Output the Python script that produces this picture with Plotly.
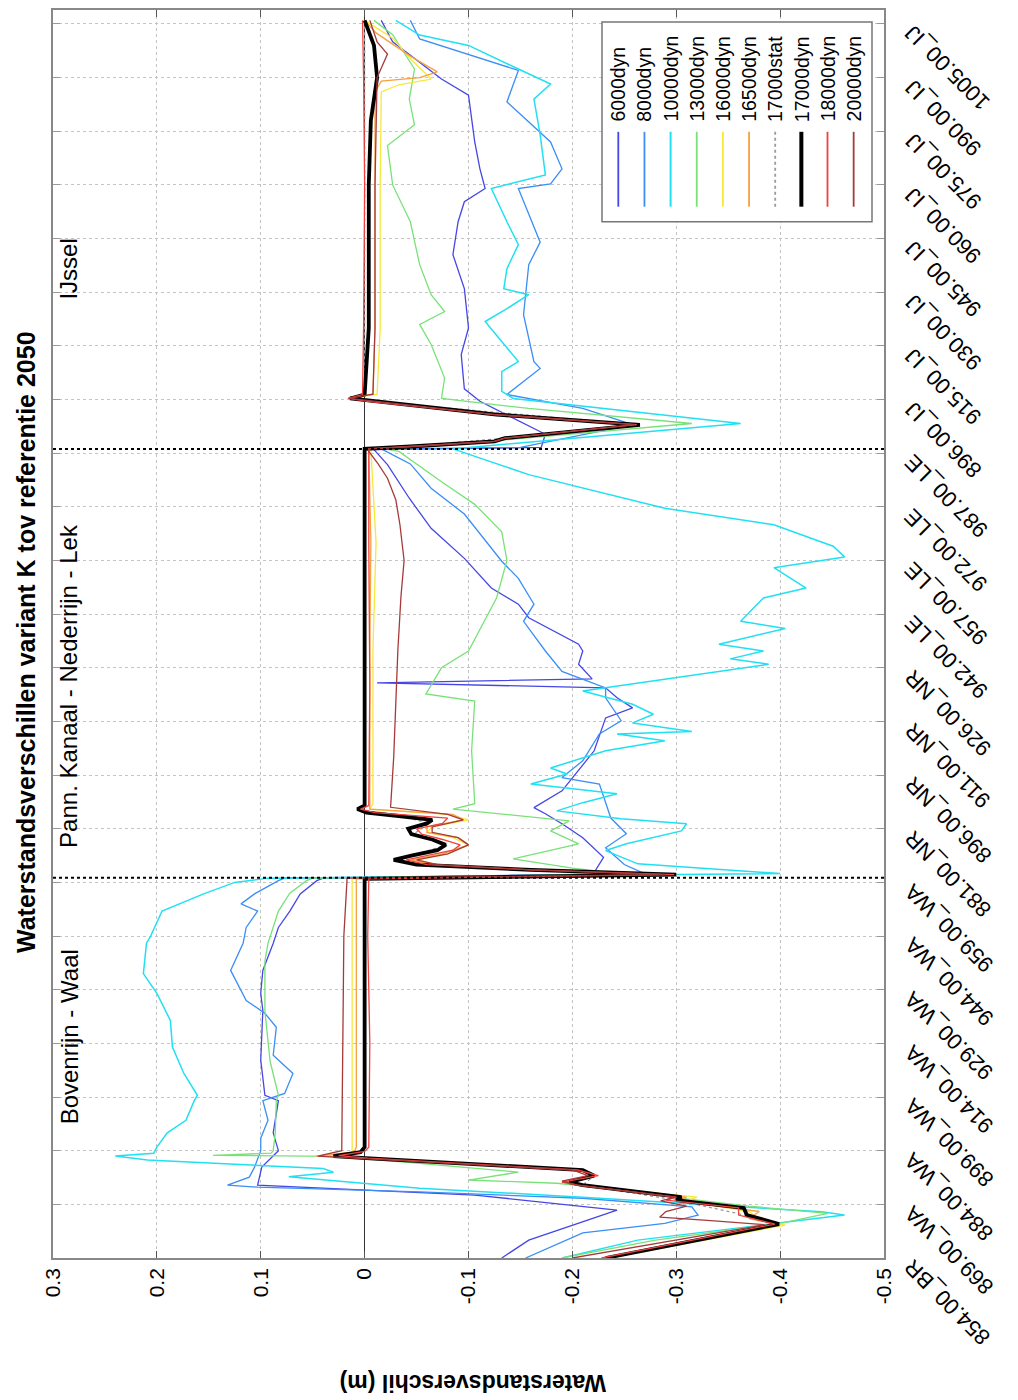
import plotly.graph_objects as go

# ---------------- data (x = water-level difference [m], y = profile position) ----------------
tick_pos = [0, 15, 30, 45, 60, 75, 90, 105, 120, 135, 150, 165, 180, 195, 210, 225,
            240, 255, 270, 285, 300, 315, 330, 345]
tick_labels = ["854.00_BR", "869.00_WA", "884.00_WA", "899.00_WA", "914.00_WA", "929.00_WA",
               "944.00_WA", "959.00_WA", "881.00_NR", "896.00_NR", "911.00_NR", "926.00_NR",
               "942.00_LE", "957.00_LE", "972.00_LE", "987.00_LE", "896.00_IJ", "915.00_IJ",
               "930.00_IJ", "945.00_IJ", "960.00_IJ", "975.00_IJ", "990.00_IJ", "1005.00_IJ"]
value_ticks = [0.3, 0.2, 0.1, 0, -0.1, -0.2, -0.3, -0.4, -0.5]
value_labels = ["0.3", "0.2", "0.1", "0", "-0.1", "-0.2", "-0.3", "-0.4", "-0.5"]
boundaries = [106.3, 226.2]
region_names = ["Bovenrijn - Waal", "Pann. Kanaal - Nederrijn - Lek", "IJssel"]

p_6000 = [0, 5, 13.4, 17.6, 20.4, 25.4, 30, 35, 44, 45.5, 55.3, 69.2, 74, 80.4, 88, 92.4, 97, 101.8,
          105.5, 106.2, 107.3, 112, 117.5, 121.4, 124.2, 125.9, 130.6, 141.8, 151, 153.8, 156.6,
          159.4, 160.8, 161.9, 166, 169.7, 171.6, 179, 182.8, 187.3, 195.6, 204, 212.4, 221.8, 226,
          226.6, 230.3, 235.8, 239.5, 243, 252.6, 260, 271, 280.5, 289.7, 295.3, 299, 304.5, 312,
          325.1, 329.6, 340, 346]
v_6000 = [-0.132, -0.158, -0.243, -0.106, 0.103, 0.099, 0.083, 0.088, 0.083, 0.096, 0.100, 0.098,
          0.100, 0.098, 0.088, 0.083, 0.072, 0.062, 0.046, 0.040, -0.220, -0.230, -0.210, -0.190,
          -0.174, -0.163, -0.190, -0.221, -0.232, -0.258, -0.243, -0.232, -0.012, -0.219, -0.206,
          -0.210, -0.206, -0.158, -0.148, -0.122, -0.096, -0.064, -0.043, -0.022, -0.009, -0.170,
          -0.174, -0.137, -0.111, -0.096, -0.093, -0.100, -0.096, -0.085, -0.090, -0.096, -0.116,
          -0.111, -0.106, -0.100, -0.074, -0.027, -0.016]

p_8000 = [0, 7, 9.7, 12, 14.3, 16.7, 18.5, 19.8, 20.4, 22.6, 25.4, 30, 33.5, 38.5, 44, 46, 51.6,
          56.7, 64.5, 68.4, 72, 74.8, 80.4, 88, 92.4, 97, 99, 101.8, 105.5, 106.2, 107.4, 110,
          114.7, 118.6, 123, 132.5, 134.3, 139, 146.5, 150.2, 156.6, 159.4, 164, 169.7, 171.6, 178,
          182.8, 190, 194.8, 208, 215.2, 222, 226.2, 226.6, 233, 237.5, 241.4, 248.7, 250.6, 263.7,
          277.7, 284, 289.7, 299, 300.3, 304.5, 312, 323.2, 332, 340.8, 346]
v_8000 = [-0.155, -0.210, -0.289, -0.321, -0.315, -0.210, -0.053, 0.103, 0.132, 0.111, 0.106,
          0.100, 0.100, 0.093, 0.098, 0.077, 0.069, 0.088, 0.085, 0.096, 0.114, 0.119, 0.129,
          0.117, 0.114, 0.103, 0.119, 0.106, 0.083, 0.077, -0.270, -0.250, -0.232, -0.252, -0.237,
          -0.226, -0.190, -0.210, -0.226, -0.247, -0.232, -0.232, -0.190, -0.174, -0.169, -0.153,
          -0.163, -0.148, -0.132, -0.096, -0.064, -0.044, -0.016, -0.150, -0.258, -0.210, -0.137,
          -0.169, -0.163, -0.153, -0.158, -0.169, -0.161, -0.148, -0.179, -0.190, -0.179, -0.137,
          -0.148, -0.053, -0.044]

p_10000 = [0, 5, 8.7, 10.6, 12, 12.9, 15.7, 17, 19.5, 22.7, 24, 25, 27.4, 28.5, 29.3, 31, 35, 38.5,
           44, 45.5, 51.6, 59, 66.4, 74, 79.5, 88, 90, 97, 101.8, 105, 106.2, 107.5, 110.2, 113.9,
           115.8, 119.4, 121.4, 122.8, 125, 127.3, 129.8, 132.5, 135.3, 137, 141.8, 144.6, 146.5,
           147.2, 149.6, 152, 154.8, 158.5, 166, 167.5, 169.7, 171.6, 176, 178, 184.5, 187.3, 193,
           196, 199, 205, 209.6, 219, 226.2, 233.3, 240.3, 242.3, 247.8, 250.6, 261.8, 265.4,
           269.3, 271, 276.6, 283.3, 289.7, 299, 302.8, 314, 324, 328.2, 332.4, 339, 341.9, 346]
v_10000 = [-0.190, -0.263, -0.368, -0.420, -0.462, -0.440, -0.289, -0.210, -0.053, 0.073, 0.030,
           0.040, 0.209, 0.240, 0.203, 0.200, 0.190, 0.172, 0.164, 0.161, 0.174, 0.185, 0.187,
           0.200, 0.213, 0.210, 0.206, 0.195, 0.155, 0.125, 0.093, -0.400, -0.263, -0.232, -0.252,
           -0.305, -0.310, -0.247, -0.185, -0.210, -0.243, -0.160, -0.195, -0.179, -0.232, -0.289,
           -0.243, -0.315, -0.258, -0.278, -0.258, -0.210, -0.389, -0.352, -0.384, -0.341, -0.405,
           -0.362, -0.384, -0.425, -0.394, -0.462, -0.451, -0.394, -0.289, -0.158, -0.085, -0.362,
           -0.143, -0.132, -0.132, -0.148, -0.116, -0.137, -0.158, -0.134, -0.137, -0.148, -0.137,
           -0.122, -0.174, -0.169, -0.163, -0.179, -0.148, -0.100, -0.053, -0.030]

p_13000 = [0, 5, 9.7, 12.5, 14.5, 16.5, 19, 20.9, 21.8, 24, 26.5, 28.4, 28.7, 29.3, 30, 35, 44, 45.5,
           55, 69, 83, 88, 97, 102, 105.5, 106.2, 107.3, 109, 111.6, 115.8, 119.4, 122.2, 125.5,
           127, 141.8, 155.7, 157.7, 165, 169.7, 184.5, 195, 203, 210.7, 217, 225.5, 226.2, 226.8,
           233.3, 237.5, 240.3, 246, 255.4, 261, 264.6, 269.3, 277.7, 289.7, 300, 311, 316.8, 324,
           332.4, 342, 346]
v_13000 = [-0.190, -0.280, -0.400, -0.446, -0.370, -0.310, -0.250, -0.185, -0.100, -0.148, -0.050,
           0.030, 0.146, 0.090, 0.088, 0.086, 0.085, 0.083, 0.091, 0.096, 0.096, 0.093, 0.083,
           0.072, 0.056, 0.050, -0.250, -0.200, -0.143, -0.206, -0.179, -0.197, -0.085, -0.106,
           -0.103, -0.106, -0.059, -0.074, -0.100, -0.127, -0.137, -0.132, -0.106, -0.074, -0.033,
           -0.020, -0.060, -0.315, -0.158, -0.074, -0.077, -0.064, -0.053, -0.077, -0.064, -0.053,
           -0.044, -0.027, -0.022, -0.048, -0.043, -0.048, -0.027, -0.009]

p_16000 = [0, 9.2, 11, 13, 16, 17, 20.4, 21.5, 23, 24.6, 27.9, 28.6, 29.6, 31, 60, 90, 106, 107.2,
           108.5, 110, 111.3, 113, 115.5, 117.5, 119, 120.5, 122.5, 124, 125.5, 127, 170, 200,
           226.2, 226.8, 228.3, 229.2, 233, 235.8, 239.5, 240.3, 241.5, 260, 300, 326, 328, 329.6,
           335, 341, 346]
v_16000 = [-0.235, -0.405, -0.38, -0.37, -0.31, -0.32, -0.205, -0.19, -0.22, -0.21, 0.0, 0.04,
           0.012, 0.012, 0.012, 0.012, 0.012, -0.3, -0.17, -0.07, -0.05, -0.08, -0.1, -0.085, -0.06,
           -0.065, -0.1, -0.08, -0.005, -0.008, -0.008, -0.011, -0.006, -0.04, -0.125, -0.135,
           -0.265, -0.127, -0.005, 0.014, -0.012, -0.015, -0.015, -0.016, -0.033, -0.064, -0.045,
           -0.027, 0.0]

p_16500 = [0, 9.3, 11, 13, 16, 17, 20.4, 21.2, 23, 24.6, 27.9, 28.5, 29.6, 31, 60, 90, 106, 107.2,
           108.5, 110, 111.3, 113, 115.5, 117.5, 119, 120.5, 122.5, 124, 125.5, 127, 170, 200,
           226.2, 226.8, 228.3, 229.2, 233, 235.8, 239.5, 240.3, 241.5, 260, 300, 326, 329, 330,
           331.6, 336, 342.5, 346]
v_16500 = [-0.233, -0.398, -0.37, -0.38, -0.3, -0.31, -0.205, -0.19, -0.22, -0.205, 0.002, 0.047,
           0.01, 0.008, 0.008, 0.008, 0.008, -0.3, -0.165, -0.065, -0.045, -0.075, -0.1, -0.09,
           -0.06, -0.06, -0.095, -0.085, -0.005, -0.005, -0.005, -0.006, -0.004, -0.04, -0.125,
           -0.135, -0.265, -0.127, -0.005, 0.016, -0.008, -0.01, -0.01, -0.01, -0.016, -0.053,
           -0.07, -0.044, -0.011, 0.0]

p_17000s = [0, 9.5, 12, 16.2, 20.4, 23, 24.6, 27.9, 28.5, 29.6, 31, 106, 107.2, 110, 111.3, 115.5,
            118.5, 121.5, 123.5, 125.5, 126.5, 226.2, 226.8, 229.2, 232.9, 239.5, 240.3, 241.4, 346]
v_17000s = [-0.23, -0.398, -0.366, -0.3, -0.21, -0.221, -0.21, -0.001, 0.028, 0.003, 0.0, 0.0,
            -0.3, -0.05, -0.03, -0.08, -0.047, -0.062, -0.036, 0.006, 0.0, 0.0, -0.04, -0.135,
            -0.265, -0.005, 0.013, 0.0, 0.0]

p_17000 = [0, 9.5, 12, 14, 16.2, 17, 20.4, 21.2, 23, 24.6, 27.9, 28.5, 29.6, 31, 60, 90, 106, 107.2,
           108.5, 110, 111.3, 112.5, 114, 115.5, 117, 118.5, 120, 121.5, 122.5, 123.5, 124.5, 125.5,
           126.5, 160, 200, 226.2, 226.8, 228.3, 229.2, 232.9, 235.8, 239.5, 240.3, 241.4, 260,
           300, 318, 330, 339, 346]
v_17000 = [-0.232, -0.399, -0.368, -0.365, -0.300, -0.305, -0.210, -0.197, -0.221, -0.210, -0.001,
           0.030, 0.004, 0.000, 0.000, 0.000, 0.000, -0.300, -0.160, -0.050, -0.028, -0.045,
           -0.070, -0.078, -0.065, -0.045, -0.042, -0.060, -0.065, -0.035, -0.002, 0.007, 0.000,
           0.000, 0.000, 0.000, -0.040, -0.125, -0.135, -0.265, -0.127, -0.005, 0.014, 0.000,
           -0.004, -0.004, -0.006, -0.012, -0.009, 0.000]

p_18000 = [0, 9.5, 12, 14, 16.2, 17, 20.4, 21.2, 23, 24.6, 27.9, 28.6, 29.8, 31, 60, 90, 106, 107.2,
           108.5, 110, 111.3, 112.5, 114, 115.5, 117, 118.5, 120, 121.5, 123, 124.5, 125.5, 126.5,
           160, 200, 226.2, 226.8, 228.3, 229.2, 233, 235.8, 239.5, 240.3, 241.4, 260, 300, 330, 346]
v_18000 = [-0.228, -0.395, -0.36, -0.36, -0.29, -0.3, -0.205, -0.19, -0.225, -0.205, -0.003, 0.025,
           0.0, -0.004, -0.005, -0.003, -0.004, -0.298, -0.16, -0.06, -0.04, -0.06, -0.085, -0.092,
           -0.075, -0.055, -0.05, -0.075, -0.08, -0.01, 0.004, -0.004, -0.005, -0.004, -0.004,
           -0.04, -0.125, -0.135, -0.262, -0.125, -0.003, 0.016, 0.002, 0.001, 0.0, 0.001, 0.002]

p_20000 = [0, 9.3, 10.5, 11.4, 13, 14.5, 16, 17, 20.4, 21.5, 23, 24.6, 27.9, 28.5, 30, 31, 60, 90,
           105.5, 106.2, 107.2, 108.5, 110, 111.3, 113, 115.5, 117.5, 119, 120.5, 122.5, 124, 126,
           140, 155, 170, 185, 195, 205, 212, 218, 222, 225.5, 226.2, 226.8, 228.3, 229.2, 233,
           235.8, 239.5, 240.3, 241.5, 260, 300, 330, 336.6, 340, 346]
v_20000 = [-0.2, -0.385, -0.33, -0.284, -0.29, -0.31, -0.285, -0.3, -0.205, -0.19, -0.215, -0.2,
           0.01, 0.045, 0.022, 0.022, 0.021, 0.02, 0.017, 0.017, -0.29, -0.16, -0.07, -0.05, -0.08,
           -0.1, -0.09, -0.065, -0.065, -0.095, -0.08, -0.025, -0.028, -0.03, -0.032, -0.035,
           -0.038, -0.034, -0.03, -0.022, -0.013, -0.004, -0.003, -0.04, -0.125, -0.135, -0.26,
           -0.125, -0.005, 0.015, -0.008, -0.01, -0.01, -0.012, -0.022, -0.012, -0.005]

series_names = ["6000dyn", "8000dyn", "10000dyn", "13000dyn", "16000dyn", "16500dyn",
                "17000stat", "17000dyn", "18000dyn", "20000dyn"]
series_p = [p_6000, p_8000, p_10000, p_13000, p_16000, p_16500, p_17000s, p_17000, p_18000, p_20000]
series_v = [v_6000, v_8000, v_10000, v_13000, v_16000, v_16500, v_17000s, v_17000, v_18000, v_20000]

# ---------------- styles ----------------
colors = ["#4646e6", "#3a8ef6", "#20e0f2", "#78e278", "#f7e83c", "#f7a040",
          "#9a9a9a", "#000000", "#f04040", "#a63a3a"]
widths = [1.3, 1.3, 1.5, 1.3, 1.3, 1.3, 1.3, 3.8, 1.3, 1.3]
dashes = ["solid", "solid", "solid", "solid", "solid", "solid", "dot", "solid", "solid", "solid"]
FONT = "Liberation Sans, Arial, Helvetica, sans-serif"

fig = go.Figure()
for name, p, v, c, w, d in zip(series_names, series_p, series_v, colors, widths, dashes):
    fig.add_trace(go.Scatter(x=v, y=p, mode="lines", name=name, showlegend=False,
                             line=dict(color=c, width=w, dash=d)))

# The page body has an 8px margin; the figure is sized so the plot lands at
# screen px: left 53, right 884, top 8, bottom 1258.
OFF = 8
W, H = 1018 - OFF, 1400 - OFF
L, T = 53 - OFF, 0
R = W - (884 - OFF)
B = H - (1258 - OFF)
pw, ph = W - L - R, H - T - B

def px(xs):
    return (xs - OFF - L) / pw

def py(ys):
    return (H - B - (ys - OFF)) / ph

fig.update_layout(
    width=W, height=H, margin=dict(l=L, r=R, t=T, b=B),
    paper_bgcolor="white", plot_bgcolor="white",
    font=dict(family=FONT, color="black"), showlegend=False,
)
fig.update_xaxes(
    range=[0.3, -0.5], tickvals=value_ticks, ticktext=value_labels, tickangle=-90,
    tickfont=dict(size=21, family=FONT, color="black"),
    showgrid=True, gridcolor="#c4c4c4", griddash="dot", gridwidth=1,
    zeroline=True, zerolinecolor="#333333", zerolinewidth=1,
    showline=True, linecolor="#888888", linewidth=1.5, mirror="ticks",
    ticks="inside", ticklen=7, tickcolor="#555555",
)
fig.update_yaxes(
    range=[0, 348.9], tickvals=tick_pos, showticklabels=False,
    showgrid=True, gridcolor="#c4c4c4", griddash="dot", gridwidth=1, zeroline=False,
    showline=True, linecolor="#888888", linewidth=1.5, mirror="ticks",
    ticks="inside", ticklen=7, tickcolor="#999999",
)

shapes = []
for b in boundaries:
    shapes.append(dict(type="line", xref="paper", x0=0, x1=1, yref="y", y0=b, y1=b,
                       line=dict(color="black", width=2, dash="dot"), layer="above"))

# legend box (drawn manually, rotated like the reference)
shapes.append(dict(type="rect", xref="paper", yref="paper", x0=px(602), x1=px(872),
                   y0=py(220), y1=py(20), line=dict(color="#777777", width=1.5),
                   fillcolor="white", layer="above"))
annotations = []
for i, (name, c, w, d) in enumerate(zip(series_names, colors, widths, dashes)):
    xc = px(618.3 + i * 26.15)
    shapes.append(dict(type="line", xref="paper", yref="paper", x0=xc, x1=xc,
                       y0=py(205), y1=py(130), layer="above",
                       line=dict(color=c, width=min(w + 0.5, 4), dash=d)))
    annotations.append(dict(x=xc, y=py(122), xref="paper", yref="paper", text=name,
                            textangle=-90, xanchor="center", yanchor="bottom", showarrow=False,
                            font=dict(size=19.5, family=FONT, color="black")))

# category tick labels (rotated like the reference)
for pos, lab in zip(tick_pos, tick_labels):
    annotations.append(dict(x=px(897), y=pos, xref="paper", yref="y", text=lab,
                            textangle=-135, xanchor="left", yanchor="top", yshift=6,
                            showarrow=False, font=dict(size=22, family=FONT, color="black")))

# title, axis title, region labels
annotations.append(dict(x=px(26), y=py(641), xref="paper", yref="paper",
                        text="<b>Waterstandsverschillen variant K tov referentie 2050</b>",
                        textangle=-90, showarrow=False, xanchor="center", yanchor="middle",
                        font=dict(size=25, family=FONT, color="black")))
annotations.append(dict(x=px(473), y=py(1383), xref="paper", yref="paper",
                        text="<b>Waterstandsverschil (m)</b>", textangle=180, showarrow=False,
                        xanchor="center", yanchor="middle",
                        font=dict(size=23, family=FONT, color="black")))
for name, yc in zip(region_names, [1037, 685, 268]):
    annotations.append(dict(x=px(69), y=py(yc), xref="paper", yref="paper", text=name,
                            textangle=-90, showarrow=False, xanchor="center", yanchor="middle",
                            font=dict(size=24, family=FONT, color="black")))

fig.update_layout(shapes=shapes, annotations=annotations)
fig.write_html("out.html")
